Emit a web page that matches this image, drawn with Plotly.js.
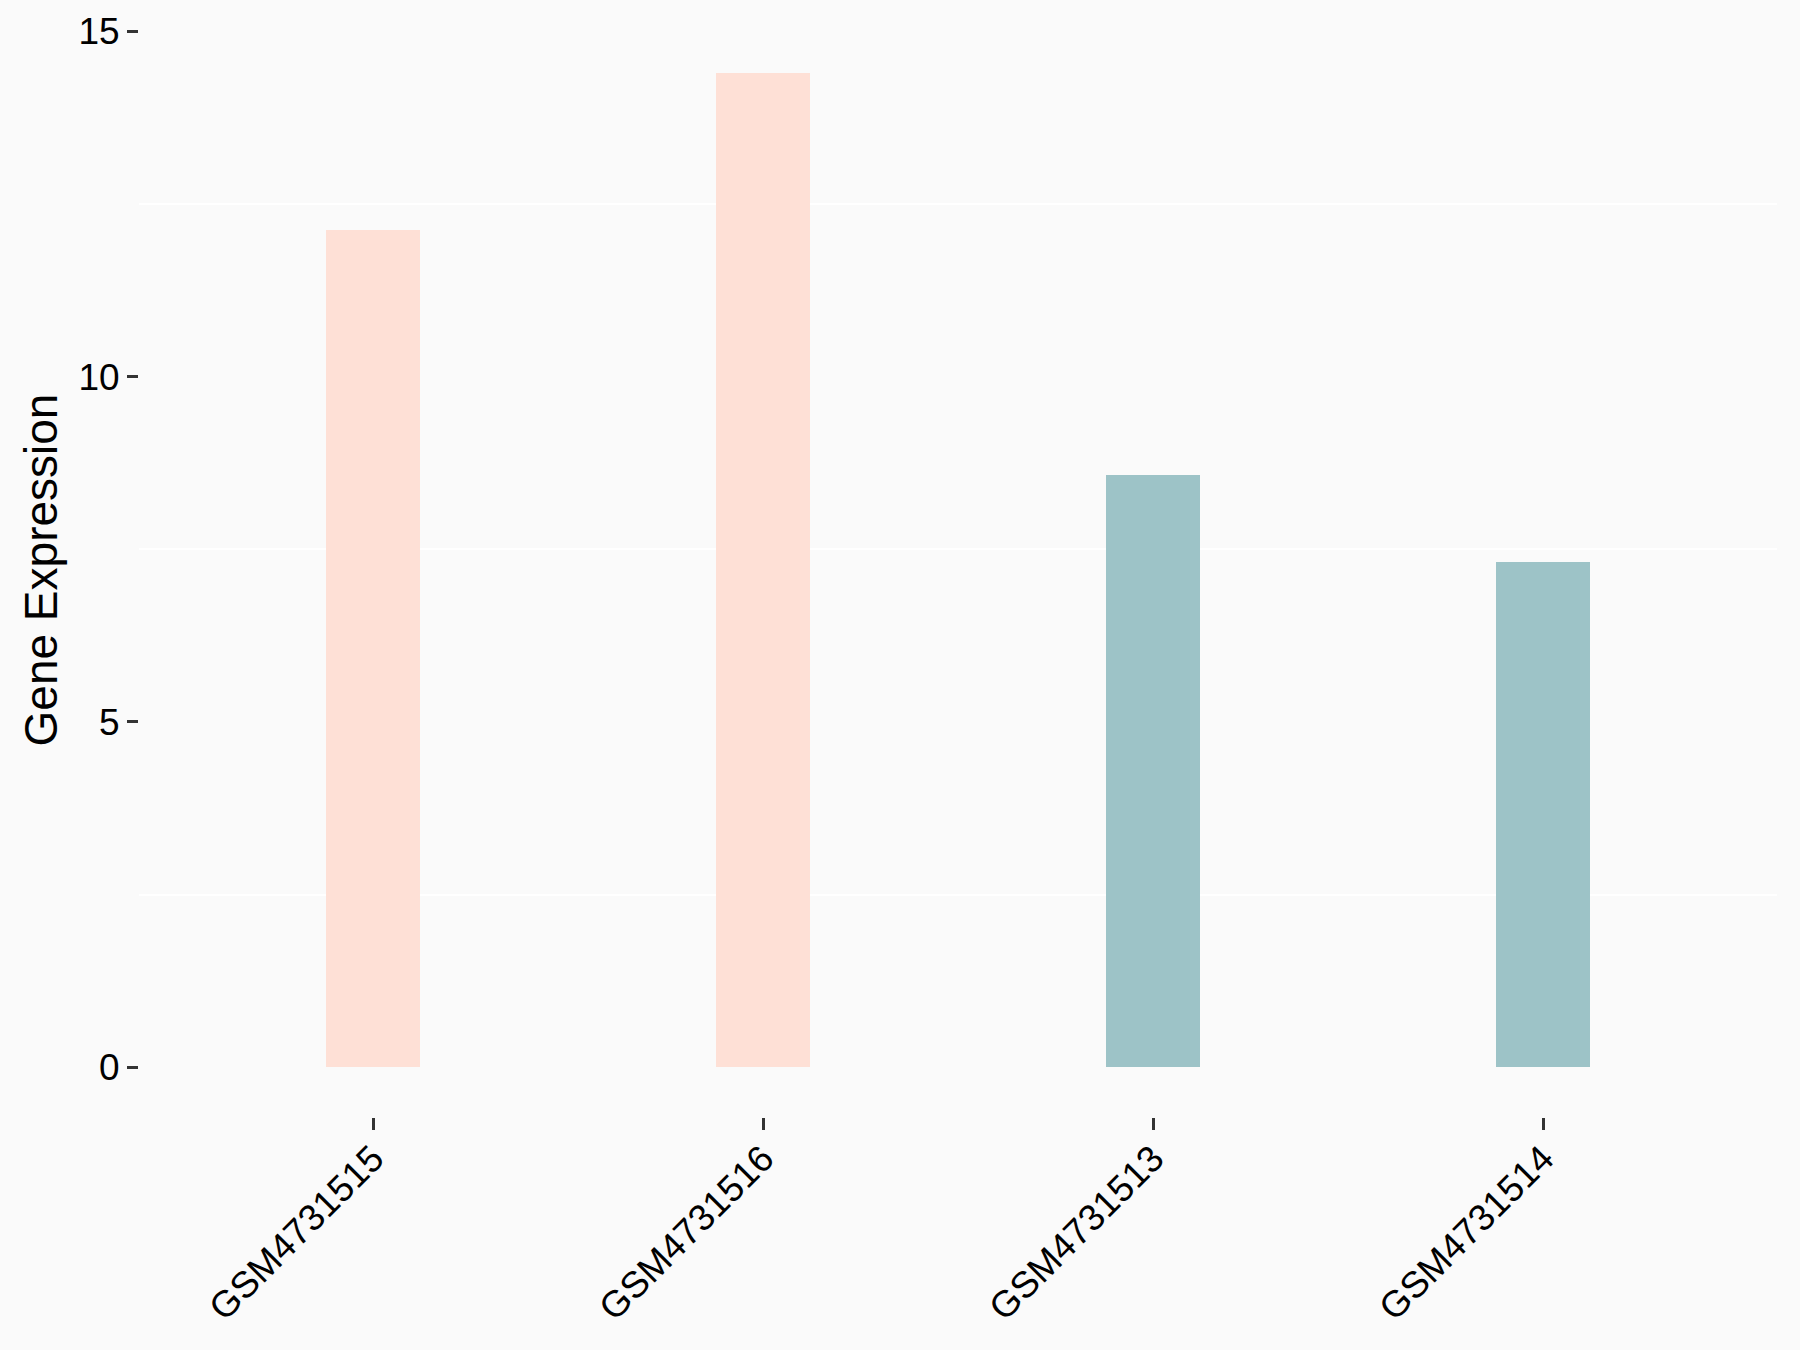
<!DOCTYPE html>
<html>
<head>
<meta charset="utf-8">
<script src="https://cdn.plot.ly/plotly-3.0.1.min.js"></script>
<style>html,body{margin:0;padding:0;background:#FAFAFA;}</style>
</head>
<body>
<div id="chart" style="width:1800px;height:1350px;"></div>
<script>
const samples = ["GSM4731515", "GSM4731516", "GSM4731513", "GSM4731514"];
const expression = [12.13, 14.40, 8.57, 7.32];
const groupColors = ["#FEE0D6", "#FEE0D6", "#9DC3C7", "#9DC3C7"];
const yTickStep = 5;
const yMinorStep = 2.5;

const trace = {
  type: "bar",
  x: samples,
  y: expression,
  width: 0.241,
  marker: { color: groupColors, line: { width: 0 } },
  hoverinfo: "x+y",
  showlegend: false
};

const layout = {
  width: 1800,
  height: 1350,
  paper_bgcolor: "#FAFAFA",
  plot_bgcolor: "#FAFAFA",
  font: { family: "Liberation Sans, Arial, sans-serif", color: "#000000" },
  margin: { l: 139, r: 23, t: 22.5, b: 232.5, pad: 0 },
  showlegend: false,
  bargap: 0,
  xaxis: {
    type: "category",
    range: [-0.6, 3.6],
    showgrid: false,
    zeroline: false,
    showline: false,
    ticks: "outside",
    ticklen: 12,
    tickwidth: 3,
    tickcolor: "#333333",
    tickangle: -45,
    ticklabelstandoff: -8,
    tickfont: { size: 37, color: "#000000" },
    automargin: false
  },
  yaxis: {
    range: [-0.72, 15.12],
    tickmode: "linear",
    tick0: 0,
    dtick: yTickStep,
    showgrid: false,
    zeroline: false,
    showline: false,
    ticks: "outside",
    ticklen: 11,
    tickwidth: 3,
    tickcolor: "#333333",
    tickfont: { size: 37, color: "#000000" },
    minor: { tick0: 0, dtick: yMinorStep, showgrid: true, gridcolor: "#FFFFFF", gridwidth: 2, ticks: "" },
    title: { text: "Gene Expression", font: { size: 46, color: "#000000" }, standoff: 6 },
    automargin: false
  }
};

Plotly.newPlot("chart", [trace], layout, { displayModeBar: false, staticPlot: true });
</script>
</body>
</html>
